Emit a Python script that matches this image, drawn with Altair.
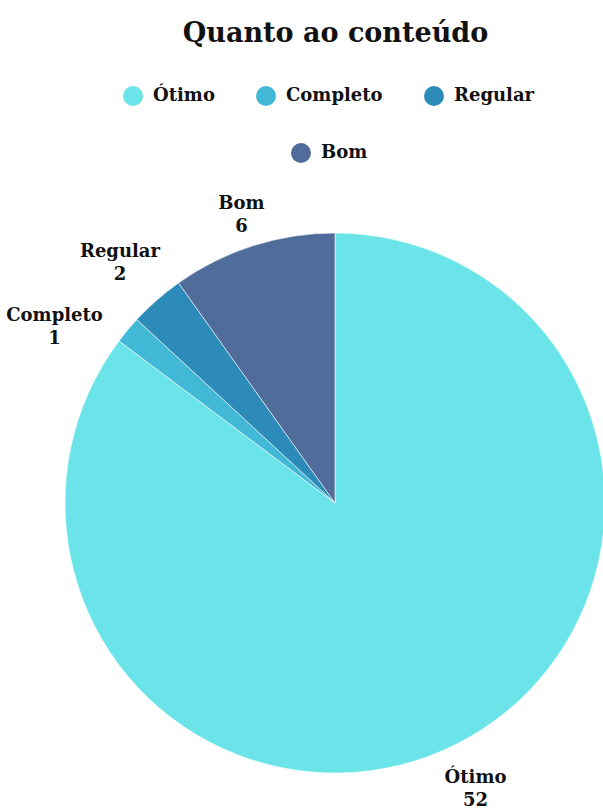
import altair as alt
import pandas as pd

categorias = ["Ótimo", "Completo", "Regular", "Bom"]
valores = [52, 1, 2, 6]
ordem = [0, 1, 2, 3]
cores = ["#6ae4e8", "#41b8d5", "#2d8bba", "#506c9a"]

df = pd.DataFrame({"categoria": categorias, "valor": valores, "ordem": ordem})

FONT = "DejaVu Serif"
CX, CY = 335, 453
R = 270
TXT = "#111111"
MIN_SEP = 0.276  # minimum angular gap (radians) between neighbouring labels

legend_common = dict(
    orient="none", direction="horizontal", title=None,
    symbolType="circle", symbolSize=400, symbolStrokeWidth=0,
    labelFont=FONT, labelFontSize=18, labelFontWeight="bold", labelColor=TXT,
    labelOffset=10, columnPadding=41, padding=0, symbolOpacity=1,
)

base = alt.Chart(df).encode(
    theta=alt.Theta("valor:Q", stack=True),
    order=alt.Order("ordem:Q", sort="ascending"),
    x=alt.value(CX),
    y=alt.value(CY),
)

arcs = base.mark_arc(outerRadius=R, stroke="white", strokeWidth=0.6).encode(
    color=alt.Color(
        "categoria:N", sort=None,
        scale=alt.Scale(domain=categorias, range=cores),
        legend=alt.Legend(values=categorias[:3], legendX=123, legendY=36, **legend_common),
    )
)

# second copy (identical drawing) only to carry the centred legend row for "Bom"
dom2 = categorias[::-1]
cores2 = cores[::-1]
arcs2 = base.mark_arc(outerRadius=R, stroke="white", strokeWidth=0.6).encode(
    fill=alt.Fill(
        "categoria:N", sort=None,
        scale=alt.Scale(domain=dom2, range=cores2),
        legend=alt.Legend(values=categorias[3:], legendX=291, legendY=93, **legend_common),
    )
)

# labels pushed outward from the rim so that the label box clears the slice,
# and nudged back when they would crowd the following label
labels = alt.Chart(df).transform_window(
    cum="sum(valor)",
    prox="lead(valor)",
    sort=[alt.SortField("ordem", order="ascending")],
    frame=[None, 0],
).transform_joinaggregate(
    total="sum(valor)"
).transform_calculate(
    rotulo="[datum.categoria, '' + datum.valor]",
    mid="(datum.cum - datum.valor / 2) / datum.total * 2 * PI",
    prox_mid="datum.prox == null ? null : (datum.cum + datum.prox / 2) / datum.total * 2 * PI",
    halfw="length(datum.categoria) * 6.1",
).transform_calculate(
    ang=f"datum.prox_mid == null ? datum.mid : min(datum.mid, datum.prox_mid - {MIN_SEP})",
).transform_calculate(
    rt=f"{R + 11} + abs(sin(datum.ang)) * datum.halfw + abs(cos(datum.ang)) * 22"
).mark_text(
    font=FONT, fontSize=18, fontWeight="bold", color=TXT,
    lineHeight=23, align="center", baseline="middle", dy=-6,
).encode(
    text="rotulo:N",
    theta=alt.Theta("ang:Q", scale=None, stack=False),
    radius=alt.Radius("rt:Q", scale=None),
    x=alt.value(CX),
    y=alt.value(CY),
)

chart = alt.layer(arcs, arcs2, labels).properties(
    width=603, height=759,
    padding={"top": 50, "left": 0, "right": 0, "bottom": 0},
    autosize=alt.AutoSizeParams(type="none"),
    title=alt.TitleParams(
        "Quanto ao conteúdo", font=FONT, fontSize=27, fontWeight="bold",
        color=TXT, anchor="middle", dx=34, dy=27, offset=8, baseline="alphabetic",
    ),
).configure_view(stroke=None)

chart.save("out.html", embed_options={"renderer": "svg", "actions": False})
